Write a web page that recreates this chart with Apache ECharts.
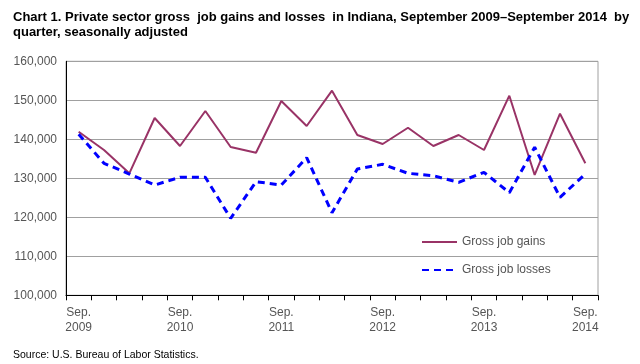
<!DOCTYPE html>
<html><head><meta charset="utf-8">
<script src="https://cdn.jsdelivr.net/npm/echarts@6/dist/echarts.min.js"></script>
<style>html,body{margin:0;padding:0;background:#fff}#c{width:640px;height:364px}</style>
</head><body><div id="c"></div>
<script>
const categories = ['Sep. 2009','Dec. 2009','Mar. 2010','Jun. 2010','Sep. 2010','Dec. 2010','Mar. 2011','Jun. 2011','Sep. 2011','Dec. 2011','Mar. 2012','Jun. 2012','Sep. 2012','Dec. 2012','Mar. 2013','Jun. 2013','Sep. 2013','Dec. 2013','Mar. 2014','Jun. 2014','Sep. 2014'];
const gains = [141950,137260,131280,145460,138280,147260,138030,136560,149820,143410,152460,141100,138790,142970,138280,141100,137260,151180,130850,146560,133850];
const losses = [141280,133850,131100,128280,130260,130260,119740,129130,128280,135280,121180,132380,133590,131280,130670,128970,131540,126310,137950,125130,131100];
const yTicks = {min:100000, max:160000, interval:10000};

const chart = echarts.init(document.getElementById('c'), null, {renderer:'canvas'});
chart.setOption({
  animation:false,
  backgroundColor:'#fff',
  textStyle:{fontFamily:'Liberation Sans, Arial, sans-serif'},
  title:[{
    text:'Chart 1. Private sector gross  job gains and losses  in Indiana, September 2009\u2013September 2014  by\nquarter, seasonally adjusted',
    left:8, top:5,
    textStyle:{fontFamily:'Liberation Sans Narrow, Arial Narrow, Liberation Sans, sans-serif', fontSize:13, fontWeight:'bold', color:'#000', lineHeight:15}
  },{
    text:'Source: U.S. Bureau of Labor Statistics.',
    left:8, top:345,
    textStyle:{fontFamily:'Liberation Sans, Arial, sans-serif', fontSize:10.5, fontWeight:'normal', color:'#000'}
  }],
  grid:{left:66, right:42, top:61.3, bottom:68.7, show:true, borderColor:'#a0a0a0', borderWidth:1},
  legend:{
    orient:'vertical', left:416, top:231, itemWidth:35, itemHeight:14, itemGap:16,
    itemStyle:{opacity:0},
    textStyle:{color:'#555', fontSize:12, fontFamily:'Liberation Sans, Arial, sans-serif'},
    data:['Gross job gains','Gross job losses']
  },
  xAxis:{
    type:'category', data:categories, boundaryGap:true,
    axisLine:{lineStyle:{color:'#000', width:1}},
    axisTick:{show:true, interval:0, length:5, lineStyle:{color:'#000'}},
    axisLabel:{interval:3, color:'#555', fontSize:12, lineHeight:15, margin:10,
      formatter:function(v){const p=v.split(' ');return p[0]+'\n'+p[1];}},
    splitLine:{show:false}
  },
  yAxis:{
    type:'value', min:yTicks.min, max:yTicks.max, interval:yTicks.interval,
    axisLine:{show:true, lineStyle:{color:'#000', width:1}},
    axisTick:{show:false},
    axisLabel:{color:'#555', fontSize:12, margin:9, formatter:function(v){return v.toLocaleString('en-US');}},
    splitLine:{lineStyle:{color:'#a0a0a0', width:1}}
  },
  series:[{
    name:'Gross job gains', type:'line', data:gains, symbol:'none',
    lineStyle:{color:'#993366', width:2}, itemStyle:{color:'#993366'}
  },{
    name:'Gross job losses', type:'line', data:losses, symbol:'none',
    lineStyle:{color:'#0000ff', width:3, type:[7,5]}, itemStyle:{color:'#0000ff'}
  }]
});
</script></body></html>
